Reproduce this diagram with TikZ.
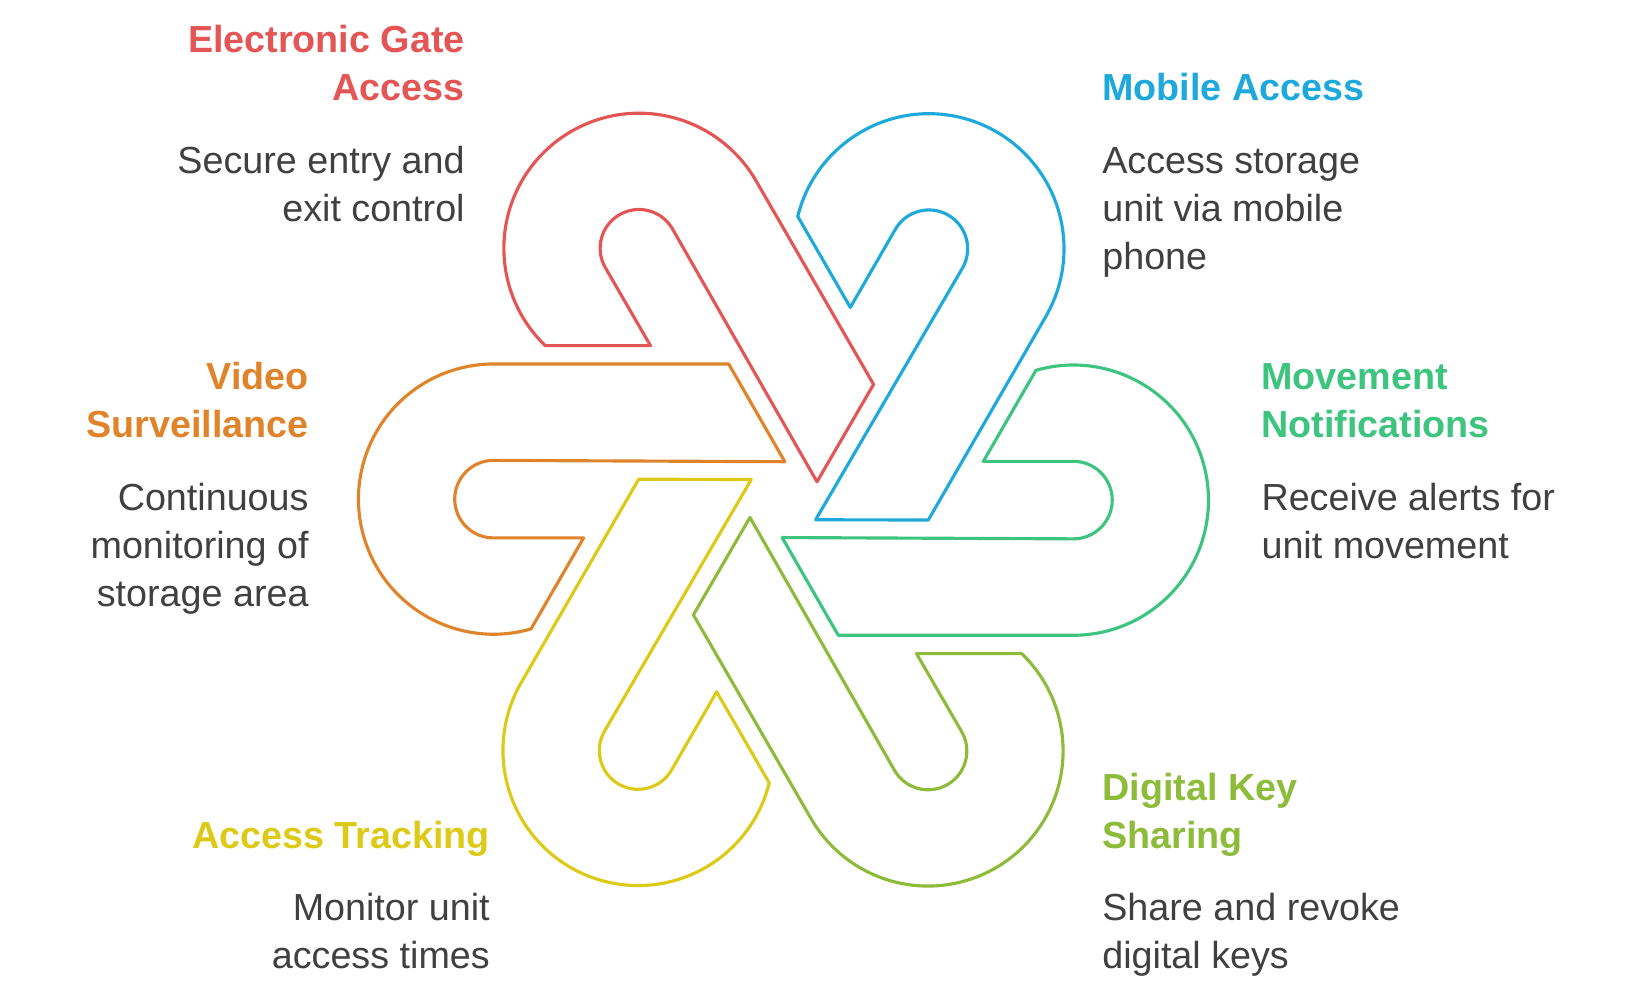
\documentclass[tikz,border=0pt]{standalone}
\usepackage{fontspec}
\setmainfont{Liberation Sans}
\definecolor{cRed}{HTML}{E45555}
\definecolor{cBlue}{HTML}{1EA9DC}
\definecolor{cGreen}{HTML}{3DC47E}
\definecolor{cLime}{HTML}{8DBB3A}
\definecolor{cYellow}{HTML}{DDCA17}
\definecolor{cOrange}{HTML}{E0842C}
\definecolor{cText}{HTML}{404040}
\tikzset{
  petal/.style={line width=1.5pt, line join=round, fill=white},
  ttl/.style={font=\fontsize{18pt}{23pt}\selectfont\bfseries, inner sep=0pt},
  dsc/.style={font=\fontsize{18pt}{23pt}\selectfont, text=cText, inner sep=0pt},
}
\begin{document}
\begin{tikzpicture}[x=0.5pt,y=0.5pt]
\useasboundingbox (0,0) rectangle (1560,-941);
\foreach \ang/\col in {0/cRed,-60/cBlue,-120/cGreen,-180/cLime,-240/cYellow,-300/cOrange}{
  \begin{scope}[shift={(748,-477)},rotate=\ang]
    \draw[petal,draw=\col] (-127,147) -- (-227.4,147)
      arc[start angle=226.1,end angle=30,radius=129]
      -- (86,110) -- (32,17) -- (-106,258.5)
      arc[start angle=30,end angle=210,radius=37] -- cycle;
  \end{scope}
}
% Electronic Gate Access
\node[ttl,text=cRed,anchor=base east] (t1a) at (444,-50) {Electronic Gate};
\node[ttl,text=cRed,anchor=base east] (t1b) at (444,-96) {Access};
\node[dsc,anchor=base east] (d1a) at (444,-166) {Secure entry and};
\node[dsc,anchor=base east] (d1b) at (444,-211) {exit control};
% Mobile Access
\node[ttl,text=cBlue,anchor=base west] (t2a) at (1052,-96) {Mobile Access};
\node[dsc,anchor=base west] (d2a) at (1052,-166) {Access storage};
\node[dsc,anchor=base west] (d2b) at (1052,-211) {unit via mobile};
\node[dsc,anchor=base west] (d2c) at (1052,-257) {phone};
% Movement Notifications
\node[ttl,text=cGreen,anchor=base west] (t3a) at (1204,-372) {Movement};
\node[ttl,text=cGreen,anchor=base west] (t3b) at (1204,-418) {Notifications};
\node[dsc,anchor=base west] (d3a) at (1204,-487) {Receive alerts for};
\node[dsc,anchor=base west] (d3b) at (1204,-533) {unit movement};
% Digital Key Sharing
\node[ttl,text=cLime,anchor=base west] (t4a) at (1052,-764) {Digital Key};
\node[ttl,text=cLime,anchor=base west] (t4b) at (1052,-810) {Sharing};
\node[dsc,anchor=base west] (d4a) at (1052,-879) {Share and revoke};
\node[dsc,anchor=base west] (d4b) at (1052,-925) {digital keys};
% Access Tracking
\node[ttl,text=cYellow,anchor=base east] (t5a) at (468,-810) {Access Tracking};
\node[dsc,anchor=base east] (d5a) at (468,-879) {Monitor unit};
\node[dsc,anchor=base east] (d5b) at (468,-925) {access times};
% Video Surveillance
\node[ttl,text=cOrange,anchor=base east] (t6a) at (295,-372) {Video};
\node[ttl,text=cOrange,anchor=base east] (t6b) at (295,-418) {Surveillance};
\node[dsc,anchor=base east] (d6a) at (295,-487) {Continuous};
\node[dsc,anchor=base east] (d6b) at (295,-533) {monitoring of};
\node[dsc,anchor=base east] (d6c) at (295,-579) {storage area};
\end{tikzpicture}
\end{document}
